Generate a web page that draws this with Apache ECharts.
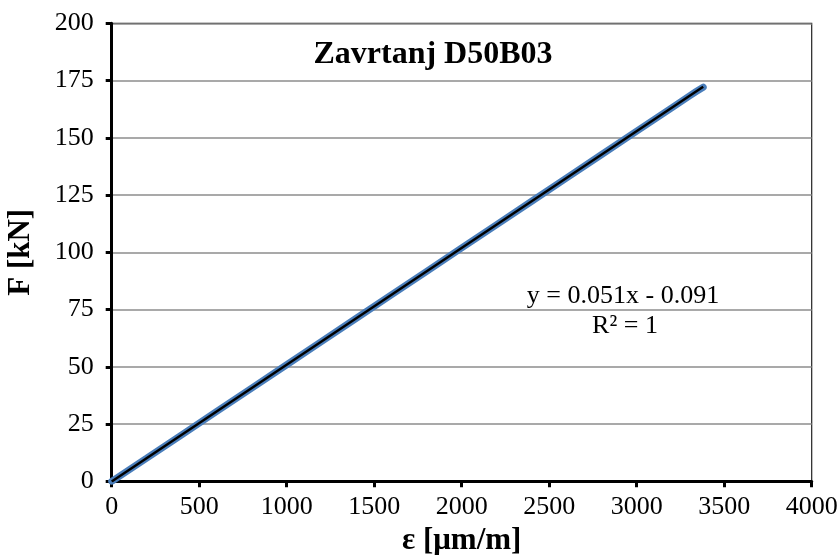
<!DOCTYPE html>
<html lang="en">

<head>
    <meta charset="utf-8">
    <title>Zavrtanj D50B03</title>
    <style>
        html, body { margin: 0; padding: 0; background: #fff; }
        #id-main-area { width: 840px; height: 555px; }
    </style>
</head>

<body>
    <div id="id-main-area"></div>
    <script src="https://cdn.jsdelivr.net/npm/echarts@6/dist/echarts.min.js"></script>
    <script>
        // measured strain [μm/m] and force [kN]
        var strain = [0, 200, 400, 600, 800, 1000, 1200, 1400, 1600, 1800, 2000, 2200, 2400, 2600, 2800, 3000, 3200, 3300, 3340, 3380]
        var force = [0, 10.1, 20.3, 30.5, 40.7, 50.9, 61.1, 71.3, 81.5, 91.7, 101.9, 112.1, 122.3, 132.5, 142.7, 152.9, 163.1, 168.2, 170.2, 172.1]

        // linear trendline end points
        var trendX = [0, 3380]
        var trendY = [-0.091, 172.3]

        var xTicks = [0, 500, 1000, 1500, 2000, 2500, 3000, 3500, 4000]
        var yTicks = [0, 25, 50, 75, 100, 125, 150, 175, 200]

        var pairs = (xs, ys) => xs.map((x, i) => [x, ys[i]])

        var font = '"Liberation Serif", "DejaVu Serif", serif'

        var showChart = () => {
            var element = document.querySelector('#id-main-area')
            var myChart = echarts.init(element)
            var option = {
                animation: false,
                grid: {
                    left: 111.7,
                    top: 23.3,
                    width: 700,
                    height: 458,
                    containLabel: false,
                    outerBoundsMode: 'none',
                    show: true,
                    borderColor: '#222',
                    borderWidth: 1.2,
                },
                xAxis: {
                    type: 'value',
                    min: xTicks[0],
                    max: xTicks[xTicks.length - 1],
                    interval: 500,
                    name: 'ε [μm/m]',
                    nameLocation: 'middle',
                    nameGap: 41,
                    nameTextStyle: { fontFamily: font, fontWeight: 'bold', fontSize: 31, color: '#000' },
                    axisLine: { show: true, lineStyle: { color: '#000', width: 3 } },
                    axisTick: { show: true, length: 6, lineStyle: { color: '#000', width: 3 } },
                    axisLabel: { fontFamily: font, fontSize: 26, color: '#000', margin: 13, formatter: (v) => String(v) },
                    splitLine: { show: false },
                },
                yAxis: {
                    type: 'value',
                    min: yTicks[0],
                    max: yTicks[yTicks.length - 1],
                    interval: 25,
                    name: 'F [kN]',
                    nameLocation: 'middle',
                    nameGap: 75,
                    nameRotate: 90,
                    nameTextStyle: { fontFamily: font, fontWeight: 'bold', fontSize: 31, color: '#000' },
                    axisLine: { show: true, lineStyle: { color: '#000', width: 3 } },
                    axisTick: { show: true, length: 6, lineStyle: { color: '#000', width: 3 } },
                    axisLabel: { fontFamily: font, fontSize: 26, color: '#000', margin: 18, formatter: (v) => String(v) },
                    splitLine: { show: true, lineStyle: { color: '#8c8c8c', width: 1.5 } },
                },
                graphic: [
                    {
                        type: 'text',
                        x: 433,
                        y: 55,
                        style: { text: 'Zavrtanj D50B03', fontFamily: font, fontWeight: 'bold', fontSize: 32, fill: '#000', align: 'center', verticalAlign: 'middle' },
                    },
                    {
                        type: 'text',
                        x: 623,
                        y: 296,
                        style: { text: 'y = 0.051x - 0.091', fontFamily: font, fontSize: 26, fill: '#000', align: 'center', verticalAlign: 'middle' },
                    },
                    {
                        type: 'text',
                        x: 625,
                        y: 326,
                        style: { text: 'R² = 1', fontFamily: font, fontSize: 26, fill: '#000', align: 'center', verticalAlign: 'middle' },
                    },
                ],
                series: [
                    {
                        type: 'line',
                        data: pairs(strain, force),
                        showSymbol: false,
                        lineStyle: { color: '#4a7ebb', width: 7, cap: 'round' },
                        z: 2,
                    },
                    {
                        type: 'line',
                        data: pairs(trendX, trendY),
                        showSymbol: false,
                        lineStyle: { color: '#000', width: 2.5 },
                        z: 3,
                    },
                ],
            }
            myChart.setOption(option, true)
        }

        var __main = () => {
            showChart()
        }

        __main()
    </script>
</body>

</html>
